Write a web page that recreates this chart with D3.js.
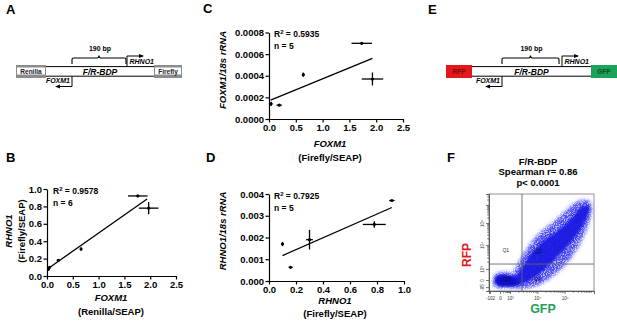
<!DOCTYPE html>
<html>
<head>
<meta charset="utf-8">
<script src="https://cdn.jsdelivr.net/npm/d3@7"></script>
<style>
body { margin: 0; background: #fff; }
svg { display: block; font-family: "Liberation Sans", Arial, Helvetica, sans-serif; }
.axis text { font-size: 9.5px; font-weight: bold; fill: #000; }
.axis path, .axis line { stroke: #000; stroke-width: 1.2px; }
.lbl { font-weight: bold; fill: #000; }
</style>
</head>
<body>
<div id="fig"></div>
<script>
// ---- panel B : FOXM1 (Renilla) vs RHNO1 (Firefly) reporter ----
var bX = [0.03, 0.05, 0.22, 0.66, 1.76, 1.97];
var bY = [0.08, 0.10, 0.18, 0.31, 0.92, 0.78];
var bXErr = [0.01, 0.01, 0.03, 0.02, 0.19, 0.19];
var bYErr = [0.02, 0.01, 0.01, 0.02, 0.01, 0.07];
var bFitX = [0.03, 1.94];
var bFitY = [0.09, 0.885];
var bXTicks = [0, 0.5, 1.0, 1.5, 2.0, 2.5];
var bYTicks = [0, 0.2, 0.4, 0.6, 0.8, 1.0];

// ---- panel C : FOXM1 reporter vs FOXM1 mRNA ----
var cX = [0.04, 0.19, 0.64, 1.73, 1.93];
var cY = [0.00014, 0.000128, 0.00041, 0.0007, 0.00037];
var cXErr = [0.01, 0.05, 0.02, 0.19, 0.20];
var cYErr = [0.00002, 0.000005, 0.00002, 0.000005, 0.00006];
var cFitX = [0.03, 1.93];
var cFitY = [0.000175, 0.00056];
var cXTicks = [0, 0.5, 1.0, 1.5, 2.0, 2.5];
var cYTicks = [0, 0.0002, 0.0004, 0.0006, 0.0008];

// ---- panel D : RHNO1 reporter vs RHNO1 mRNA ----
var dX = [0.10, 0.16, 0.30, 0.78, 0.91];
var dY = [0.0017, 0.00063, 0.0019, 0.0026, 0.0037];
var dXErr = [0.01, 0.015, 0.025, 0.085, 0.02];
var dYErr = [0.0001, 0.00003, 0.00045, 0.00015, 0.00002];
var dFitX = [0.10, 0.91];
var dFitY = [0.00117, 0.00338];
var dXTicks = [0, 0.2, 0.4, 0.6, 0.8, 1.0];
var dYTicks = [0, 0.001, 0.002, 0.003, 0.004];

// ---- panel F : flow cytometry, display units 0-100 on both axes ----
var gateGFP = 31.4, gateRFP = 27.8;
var cloudOuter = [[4.8,5.2],[3.8,11.3],[6.7,17.5],[14.3,19.6],[21.9,18.6],[26.7,25.8],[31.4,35.1],
    [38.1,46.4],[45.7,56.7],[54.3,64.9],[63.8,73.2],[73.3,82.5],[81.9,90.7],[89.5,93.8],[95.2,92.8],
    [98.1,85.6],[96.2,75.3],[92.4,62.9],[86.7,49.5],[79.0,36.1],[69.5,23.7],[58.1,13.4],[46.7,6.2],
    [35.2,3.1],[21.9,3.1],[10.5,3.1]];
var cloudCore = [[7.6,7.2],[7.6,15.5],[15.2,16.5],[24.8,15.5],[31.4,23.7],[39.0,37.1],[50.5,50.5],
    [63.8,60.8],[77.1,73.2],[86.7,85.6],[94.3,88.7],[95.2,81.4],[89.5,68.0],[80.0,52.6],[69.5,40.2],
    [58.1,27.8],[45.7,15.5],[31.4,7.2],[18.1,5.2]];
var cloudBlob = [[6,8],[6,14],[12,16],[20,15],[26,12],[28,7],[20,5],[11,5]];
var fXMajor = [1, 10.5, 20, 46, 72];
var fXLabels = ["-102", "0", "10\u00b3", "10\u2074", "10\u2075"];
var fYMajor = [4, 11.3, 22.7, 47.4, 70.1, 88.7];
var fYLabels = ["-95", "0", "10\u00b3", "10\u2074", "10\u2075", ""];
var quadNames = ["Q1", "Q2", "Q3", "Q4"];

var svg = d3.select("#fig").append("svg")
    .attr("width", 617)
    .attr("height", 324);

var defs = svg.append("defs");
defs.append("marker")
    .attr("id", "arrow")
    .attr("viewBox", "0 0 10 10")
    .attr("refX", 8).attr("refY", 5)
    .attr("markerWidth", 5).attr("markerHeight", 5)
    .attr("orient", "auto")
    .append("path").attr("d", "M0,1L10,5L0,9Z").attr("fill", "#000");

var soft = defs.append("filter").attr("id", "soft")
    .attr("x", "-20%").attr("y", "-20%").attr("width", "140%").attr("height", "140%");
soft.append("feGaussianBlur").attr("stdDeviation", 1.2);

var grain = defs.append("filter").attr("id", "grain")
    .attr("x", "-20%").attr("y", "-20%").attr("width", "140%").attr("height", "140%");
grain.append("feGaussianBlur").attr("in", "SourceGraphic").attr("stdDeviation", 2).attr("result", "b");
grain.append("feTurbulence").attr("type", "fractalNoise").attr("baseFrequency", 1.1)
    .attr("numOctaves", 2).attr("seed", 4).attr("result", "n");
grain.append("feColorMatrix").attr("in", "n").attr("type", "matrix")
    .attr("values", "0 0 0 0 0.08  0 0 0 0 0.08  0 0 0 0 0.95  0 0 0 4.5 -1.5")
    .attr("result", "d");
grain.append("feComposite").attr("in", "d").attr("in2", "b").attr("operator", "in");

// panel letters
[["A", 6, 14], ["B", 6, 162], ["C", 203, 13], ["D", 206, 162], ["E", 428, 14], ["F", 447, 162]]
    .forEach(function (d) {
        svg.append("text").attr("class", "lbl")
            .attr("x", d[1]).attr("y", d[2])
            .style("font-size", "13px")
            .text(d[0]);
    });

// generic Prism-like scatter with error bars and fit line
function drawScatter(cfg) {
    var x = d3.scaleLinear().domain(cfg.xDomain).range(cfg.xRange);
    var y = d3.scaleLinear().domain(cfg.yDomain).range(cfg.yRange);
    var g = svg.append("g");

    g.append("g").attr("class", "axis")
        .attr("transform", "translate(0," + cfg.yRange[0] + ")")
        .call(d3.axisBottom(x).tickValues(cfg.xTicks).tickFormat(d3.format(cfg.xFmt))
            .tickSize(3.5).tickSizeOuter(0).tickPadding(1.5));

    g.append("g").attr("class", "axis")
        .attr("transform", "translate(" + cfg.xRange[0] + ",0)")
        .call(d3.axisLeft(y).tickValues(cfg.yTicks).tickFormat(d3.format(cfg.yFmt))
            .tickSize(3.5).tickSizeOuter(0).tickPadding(1.5));

    // regression line
    g.append("line")
        .attr("x1", x(cfg.fitX[0])).attr("y1", y(cfg.fitY[0]))
        .attr("x2", x(cfg.fitX[1])).attr("y2", y(cfg.fitY[1]))
        .attr("stroke", "#000").attr("stroke-width", 1.3);

    // error bars
    cfg.xs.forEach(function (v, i) {
        var yv = cfg.ys[i];
        g.append("line")
            .attr("x1", x(v - cfg.xErr[i])).attr("x2", x(v + cfg.xErr[i]))
            .attr("y1", y(yv)).attr("y2", y(yv))
            .attr("stroke", "#000").attr("stroke-width", 1.3);
        g.append("line")
            .attr("x1", x(v)).attr("x2", x(v))
            .attr("y1", y(yv - cfg.yErr[i])).attr("y2", y(yv + cfg.yErr[i]))
            .attr("stroke", "#000").attr("stroke-width", 1.3);
    });

    g.selectAll("circle.pt").data(cfg.xs).enter().append("circle")
        .attr("class", "pt")
        .attr("cx", function (d) { return x(d); })
        .attr("cy", function (d, i) { return y(cfg.ys[i]); })
        .attr("r", 1.6)
        .attr("fill", "#000");

    // R squared and n
    var r2 = g.append("text").attr("class", "lbl")
        .attr("x", cfg.statX).attr("y", cfg.statY)
        .style("font-size", "8.5px");
    r2.append("tspan").text("R");
    r2.append("tspan").attr("dy", -3.5).style("font-size", "6px").text("2");
    r2.append("tspan").attr("dy", 3.5).text(" = " + cfg.r2);
    g.append("text").attr("class", "lbl")
        .attr("x", cfg.statX).attr("y", cfg.statY + 12)
        .style("font-size", "8.5px")
        .text("n = " + cfg.n);

    // y title (rotated)
    cfg.yTitle.forEach(function (t) {
        g.append("text").attr("class", "lbl")
            .attr("transform", "translate(" + t.x + "," + cfg.yTitleMid + ") rotate(-90)")
            .attr("text-anchor", "middle")
            .style("font-size", "9.5px")
            .style("font-style", t.italic ? "italic" : "normal")
            .text(t.text);
    });
    // x title
    cfg.xTitle.forEach(function (t) {
        g.append("text").attr("class", "lbl")
            .attr("x", cfg.xTitleMid).attr("y", t.y)
            .attr("text-anchor", "middle")
            .style("font-size", "9.5px")
            .style("font-style", t.italic ? "italic" : "normal")
            .text(t.text);
    });
}

drawScatter({
    xDomain: [0, 2.5], xRange: [47, 176], yDomain: [0, 1], yRange: [276, 189],
    xTicks: bXTicks, yTicks: bYTicks, xFmt: ".1f", yFmt: ".1f",
    xs: bX, ys: bY, xErr: bXErr, yErr: bYErr, fitX: bFitX, fitY: bFitY,
    r2: "0.9578", n: 6, statX: 53, statY: 194,
    yTitleMid: 231, yTitle: [{ text: "RHNO1", italic: true, x: 12 }, { text: "(Firefly/SEAP)", x: 24.5 }],
    xTitleMid: 111, xTitle: [{ text: "FOXM1", italic: true, y: 300.5 }, { text: "(Renilla/SEAP)", y: 314.5 }]
});

drawScatter({
    xDomain: [0, 2.5], xRange: [269, 403], yDomain: [0, 0.0008], yRange: [119, 32.5],
    xTicks: cXTicks, yTicks: cYTicks, xFmt: ".1f", yFmt: ".4f",
    xs: cX, ys: cY, xErr: cXErr, yErr: cYErr, fitX: cFitX, fitY: cFitY,
    r2: "0.5935", n: 5, statX: 274, statY: 37,
    yTitleMid: 70, yTitle: [{ text: "FOXM1/18s rRNA", italic: true, x: 226 }],
    xTitleMid: 330, xTitle: [{ text: "FOXM1", italic: true, y: 146.5 }, { text: "(Firefly/SEAP)", y: 161 }]
});

drawScatter({
    xDomain: [0, 1], xRange: [269, 404], yDomain: [0, 0.004], yRange: [281, 194],
    xTicks: dXTicks, yTicks: dYTicks, xFmt: ".1f", yFmt: ".3f",
    xs: dX, ys: dY, xErr: dXErr, yErr: dYErr, fitX: dFitX, fitY: dFitY,
    r2: "0.7925", n: 5, statX: 274, statY: 199,
    yTitleMid: 231, yTitle: [{ text: "RHNO1/18s rRNA", italic: true, x: 226 }],
    xTitleMid: 335, xTitle: [{ text: "RHNO1", italic: true, y: 303.5 }, { text: "(Firefly/SEAP)", y: 317 }]
});

// bidirectional promoter constructs (A and E)
function drawConstruct(c) {
    var g = svg.append("g");
    var top = 65, bot = 78;

    // backbone
    [66.6, 76.2].forEach(function (yy) {
        g.append("line").attr("x1", c.left[1]).attr("x2", c.right[0])
            .attr("y1", yy).attr("y2", yy)
            .attr("stroke", "#000").attr("stroke-width", 1);
    });

    // reporter boxes
    [[c.left, c.leftName, c.leftFill, c.leftText], [c.right, c.rightName, c.rightFill, c.rightText]]
        .forEach(function (b) {
            if (c.gray) {
                g.append("rect").attr("x", b[0][0]).attr("y", top)
                    .attr("width", b[0][1] - b[0][0]).attr("height", bot - top)
                    .attr("fill", "#8c8c8c");
                g.append("rect").attr("x", b[0][0] + 1).attr("y", top + 2.5)
                    .attr("width", b[0][1] - b[0][0] - 2).attr("height", bot - top - 6)
                    .attr("fill", "#fff");
            } else {
                g.append("rect").attr("x", b[0][0]).attr("y", top)
                    .attr("width", b[0][1] - b[0][0]).attr("height", bot - top)
                    .attr("fill", b[2]);
            }
            g.append("text").attr("class", "lbl")
                .attr("x", (b[0][0] + b[0][1]) / 2).attr("y", 74.3)
                .attr("text-anchor", "middle")
                .style("font-size", "6.5px")
                .style("fill", b[3])
                .text(b[1]);
        });

    var mid = (c.bracket[0] + c.bracket[1]) / 2;
    g.append("text").attr("class", "lbl")
        .attr("x", (c.left[1] + c.right[0]) / 2).attr("y", 74.8)
        .attr("text-anchor", "middle")
        .style("font-size", "8.5px").style("font-style", "italic")
        .text("F/R-BDP");

    // 190 bp bracket
    g.append("path")
        .attr("d", "M" + c.bracket[0] + ",64V59.5Q" + c.bracket[0] + ",58 " + (c.bracket[0] + 1.5) + ",58H" +
            (mid - 2) + "Q" + mid + ",58 " + mid + ",55.5Q" + mid + ",58 " + (mid + 2) + ",58H" +
            (c.bracket[1] - 1.5) + "Q" + c.bracket[1] + ",58 " + c.bracket[1] + ",59.5V64")
        .attr("fill", "none").attr("stroke", "#000").attr("stroke-width", 1.1);
    g.append("text").attr("class", "lbl")
        .attr("x", mid + 1).attr("y", 51)
        .attr("text-anchor", "middle")
        .style("font-size", "7px")
        .text("190 bp");

    // RHNO1 TSS arrow (rightward)
    g.append("path")
        .attr("d", "M" + c.rTss + ",66.6V56H" + (c.rTss + 16))
        .attr("fill", "none").attr("stroke", "#000").attr("stroke-width", 1)
        .attr("marker-end", "url(#arrow)");
    g.append("text").attr("class", "lbl")
        .attr("x", c.rTss + 2.5).attr("y", 64)
        .style("font-size", "7px").style("font-style", "italic")
        .text("RHNO1");

    // FOXM1 TSS arrow (leftward)
    g.append("path")
        .attr("d", "M" + c.fTss + ",76.2V86.5H" + (c.fTss - 16))
        .attr("fill", "none").attr("stroke", "#000").attr("stroke-width", 1)
        .attr("marker-end", "url(#arrow)");
    g.append("text").attr("class", "lbl")
        .attr("x", c.fTss - 2).attr("y", 83)
        .attr("text-anchor", "end")
        .style("font-size", "7px").style("font-style", "italic")
        .text("FOXM1");
}

drawConstruct({
    left: [16, 46], right: [154, 182], gray: true,
    leftName: "Renilla", rightName: "Firefly", leftText: "#222", rightText: "#222",
    bracket: [72, 126], rTss: 127, fTss: 72
});
drawConstruct({
    left: [446, 472], right: [591, 617], gray: false,
    leftName: "RFP", rightName: "GFP", leftFill: "#e3181c", rightFill: "#1ba459",
    leftText: "#7d0c0c", rightText: "#0f4a26",
    bracket: [502, 559], rTss: 562, fTss: 502
});

// ---- panel F flow plot ----
var fx = d3.scaleLinear().domain([0, 100]).range([489, 594]);
var fy = d3.scaleLinear().domain([0, 100]).range([291, 194]);
var fg = svg.append("g");

["F/R-BDP", "Spearman r= 0.86", "p< 0.0001"].forEach(function (t, i) {
    fg.append("text").attr("class", "lbl")
        .attr("x", 538).attr("y", 165 + i * 10.3)
        .attr("text-anchor", "middle")
        .style("font-size", "9.5px")
        .text(t);
});

var cloudLine = d3.line()
    .x(function (d) { return fx(d[0]); })
    .y(function (d) { return fy(d[1]); })
    .curve(d3.curveCardinalClosed.tension(0.3));

fg.append("path").attr("d", cloudLine(cloudOuter))
    .attr("fill", "#1c1cf0").attr("filter", "url(#grain)");
fg.append("path").attr("d", cloudLine(cloudOuter))
    .attr("fill", "#3030f2").attr("opacity", 0.3).attr("filter", "url(#soft)");
fg.append("path").attr("d", cloudLine(cloudCore))
    .attr("fill", "#1414e0").attr("opacity", 0.9).attr("filter", "url(#soft)");
fg.append("path").attr("d", cloudLine(cloudBlob))
    .attr("fill", "#0a0ac8").attr("opacity", 0.85).attr("filter", "url(#soft)");

// frame and gates
fg.append("rect").attr("x", fx(0)).attr("y", fy(100))
    .attr("width", fx(100) - fx(0)).attr("height", fy(0) - fy(100))
    .attr("fill", "none").attr("stroke", "#777").attr("stroke-width", 0.8);
fg.append("line").attr("x1", fx(gateGFP)).attr("x2", fx(gateGFP))
    .attr("y1", fy(0)).attr("y2", fy(100))
    .attr("stroke", "#666").attr("stroke-width", 0.9);
fg.append("line").attr("x1", fx(0)).attr("x2", fx(100))
    .attr("y1", fy(gateRFP)).attr("y2", fy(gateRFP))
    .attr("stroke", "#666").attr("stroke-width", 0.9);

var quadPos = [[16, 40], [47, 39], [17, 10], [46, 10]];
quadNames.forEach(function (q, i) {
    fg.append("text")
        .attr("x", fx(quadPos[i][0])).attr("y", fy(quadPos[i][1]))
        .attr("text-anchor", "middle")
        .style("font-size", "5px").style("fill", i === 0 ? "#333" : "#111")
        .text(q);
});

// log-style minor ticks between majors
function minorTicks(majors) {
    var out = [];
    for (var i = 2; i < majors.length; i++) {
        var a = majors[i - 1], b = majors[i];
        for (var k = 2; k < 10; k++) out.push(a + Math.log10(k) * (b - a));
    }
    var last = majors[majors.length - 1], step = majors[majors.length - 1] - majors[majors.length - 2];
    for (var k2 = 2; k2 < 10; k2++) {
        var v = last + Math.log10(k2) * step;
        if (v < 100) out.push(v);
    }
    return out;
}

fg.append("g").attr("class", "faxis")
    .attr("transform", "translate(0," + fy(0) + ")")
    .call(d3.axisBottom(fx).tickValues(fXMajor).tickSize(3).tickFormat(function (d, i) { return fXLabels[i]; }));
fg.append("g").attr("class", "faxis")
    .attr("transform", "translate(0," + fy(0) + ")")
    .call(d3.axisBottom(fx).tickValues(minorTicks(fXMajor)).tickSize(1.8).tickFormat(""));
fg.append("g").attr("class", "faxis")
    .attr("transform", "translate(" + fx(0) + ",0)")
    .call(d3.axisLeft(fy).tickValues(fYMajor).tickSize(3).tickFormat(function (d, i) { return fYLabels[i]; }));
fg.append("g").attr("class", "faxis")
    .attr("transform", "translate(" + fx(0) + ",0)")
    .call(d3.axisLeft(fy).tickValues(minorTicks(fYMajor.slice(1))).tickSize(1.8).tickFormat(""));
fg.selectAll(".faxis path").attr("stroke", "#555").attr("stroke-width", 0.8);
fg.selectAll(".faxis line").attr("stroke", "#555").attr("stroke-width", 0.8);
fg.selectAll(".faxis text").style("font-size", "4.5px").style("fill", "#333");
fg.selectAll(".faxis").filter(function (d, i) { return i === 2; })
    .selectAll("text").attr("transform", "rotate(-90)").attr("dy", "0.3em").attr("dx", "0").attr("x", 0).attr("y", -6)
    .attr("text-anchor", "middle");

fg.append("text").attr("class", "lbl")
    .attr("transform", "translate(471,255) rotate(-90)")
    .attr("text-anchor", "middle")
    .style("font-size", "12px").style("fill", "#e41a1c")
    .text("RFP");
fg.append("text").attr("class", "lbl")
    .attr("x", 543).attr("y", 313)
    .attr("text-anchor", "middle")
    .style("font-size", "12.5px").style("fill", "#1f9e55")
    .text("GFP");
</script>
</body>
</html>
